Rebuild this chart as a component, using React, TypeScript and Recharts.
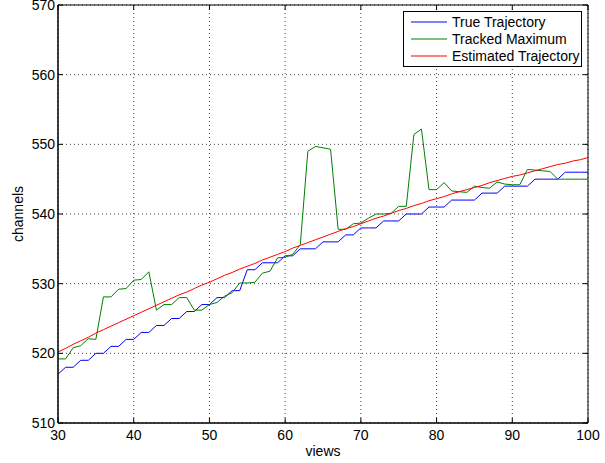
import {
  LineChart,
  Line,
  XAxis,
  YAxis,
  CartesianGrid,
  Legend,
  ReferenceArea,
  Label,
} from 'recharts';

// x values: views 30..100
const views = [
  30, 31, 32, 33, 34, 35, 36, 37, 38, 39,
  40, 41, 42, 43, 44, 45, 46, 47, 48, 49,
  50, 51, 52, 53, 54, 55, 56, 57, 58, 59,
  60, 61, 62, 63, 64, 65, 66, 67, 68, 69,
  70, 71, 72, 73, 74, 75, 76, 77, 78, 79,
  80, 81, 82, 83, 84, 85, 86, 87, 88, 89,
  90, 91, 92, 93, 94, 95, 96, 97, 98, 99,
  100,
];

const trueTrajectory = [
  517, 518, 518, 519, 519, 520, 520, 521, 521, 522,
  522, 523, 523, 524, 524, 525, 525, 526, 526, 527,
  527, 528, 528, 529, 529, 532, 532, 533, 533, 533,
  534, 534, 535, 535, 535, 536, 536, 536, 537, 537,
  538, 538, 538, 539, 539, 539, 540, 540, 540, 541,
  541, 541, 542, 542, 542, 542, 543, 543, 543, 544,
  544, 544, 544, 545, 545, 545, 545, 546, 546, 546,
  546,
];

const trackedMaximum = [
  519.2, 519.2, 520.8, 521.1, 522.1, 522.0, 528.1, 528.1, 529.2, 529.3,
  530.5, 530.6, 531.7, 526.2, 527.0, 527.0, 528.0, 528.0, 526.2, 526.2,
  527.0, 527.3, 528.2, 528.7, 530.1, 530.1, 530.2, 531.5, 531.8, 533.7,
  533.8, 534.2, 535.6, 549.0, 549.7, 549.5, 549.3, 537.8, 537.8, 538.6,
  538.7, 539.4, 540.0, 540.0, 540.1, 541.1, 541.1, 551.4, 552.2, 543.5,
  543.5, 544.5, 543.3, 543.2, 543.1, 544.0, 543.8, 543.7, 544.6, 544.3,
  544.2, 544.2, 546.4, 546.3, 546.2, 546.1, 545.0, 545.0, 545.0, 545.0,
  545.0,
];

const estimatedTrajectory = [
  520.2, 520.7, 521.3, 521.8, 522.3, 522.9, 523.4, 523.9, 524.4, 524.9,
  525.4, 525.9, 526.4, 526.9, 527.4, 527.9, 528.4, 528.8, 529.3, 529.8,
  530.2, 530.7, 531.2, 531.6, 532.1, 532.5, 532.9, 533.4, 533.8, 534.2,
  534.6, 535.1, 535.5, 535.9, 536.3, 536.7, 537.1, 537.5, 537.9, 538.2,
  538.6, 539.0, 539.4, 539.7, 540.1, 540.5, 540.8, 541.2, 541.5, 541.9,
  542.2, 542.5, 542.9, 543.2, 543.5, 543.8, 544.1, 544.5, 544.8, 545.1,
  545.4, 545.6, 545.9, 546.2, 546.5, 546.8, 547.1, 547.3, 547.6, 547.8,
  548.1,
];

const xTicks = [30, 40, 50, 60, 70, 80, 90, 100];
const yTicks = [510, 520, 530, 540, 550, 560, 570];

const seriesInfo = [
  { key: 'true', name: 'True Trajectory', color: '#0000ff' },
  { key: 'tracked', name: 'Tracked Maximum', color: '#008000' },
  { key: 'estimated', name: 'Estimated Trajectory', color: '#ff0000' },
];

const chartData = views.map((v, i) => ({
  views: v,
  true: trueTrajectory[i],
  tracked: trackedMaximum[i],
  estimated: estimatedTrajectory[i],
}));

const FONT = 'Liberation Sans, Arial, Helvetica, sans-serif';
const PLOT = { left: 58, top: 5, right: 588, bottom: 423 };

function XTick(props: any) {
  const { x, payload } = props;
  return (
    <g>
      <line x1={x} x2={x} y1={PLOT.bottom} y2={PLOT.bottom - 5} stroke="#000" />
      <line x1={x} x2={x} y1={PLOT.top} y2={PLOT.top + 5} stroke="#000" />
      <text
        x={x}
        y={PLOT.bottom + 16.5}
        textAnchor="middle"
        fontSize={14}
        fontFamily={FONT}
        fill="#000"
      >
        {payload.value}
      </text>
    </g>
  );
}

function YTick(props: any) {
  const { y, payload } = props;
  return (
    <g>
      <line x1={PLOT.left} x2={PLOT.left + 5} y1={y} y2={y} stroke="#000" />
      <line x1={PLOT.right} x2={PLOT.right - 5} y1={y} y2={y} stroke="#000" />
      <text
        x={PLOT.left - 3}
        y={y + 5}
        textAnchor="end"
        fontSize={14}
        fontFamily={FONT}
        fill="#000"
      >
        {payload.value}
      </text>
    </g>
  );
}

function LegendBox() {
  return (
    <svg width={179} height={56} style={{ display: 'block' }}>
      <rect x={0.5} y={0.5} width={178} height={55} fill="#fff" stroke="#000" />
      {seriesInfo.map((s, i) => (
        <g key={s.key}>
          <line
            x1={8}
            x2={44}
            y1={11 + i * 17}
            y2={11 + i * 17}
            stroke={s.color}
            strokeWidth={1.2}
          />
          <text
            x={49}
            y={16 + i * 17}
            fontSize={14}
            fontFamily={FONT}
            fill="#000"
          >
            {s.name}
          </text>
        </g>
      ))}
    </svg>
  );
}

function App() {
  return (
    <div style={{ position: 'absolute', left: 0, top: 0, background: '#fff' }}>
      <LineChart
        width={605}
        height={463}
        data={chartData}
        margin={{ top: PLOT.top, right: 605 - PLOT.right, left: 0, bottom: 0 }}
      >
        <CartesianGrid stroke="#444" strokeDasharray="1 3" />
        <XAxis
          dataKey="views"
          type="number"
          domain={[30, 100]}
          ticks={xTicks}
          height={463 - PLOT.bottom}
          stroke="#000"
          tickLine={false}
          tick={<XTick />}
          interval={0}
        >
          <Label
            content={(p: any) => (
              <text
                x={p.viewBox.x + p.viewBox.width / 2}
                y={456}
                textAnchor="middle"
                fontSize={14}
                fontFamily={FONT}
                fill="#000"
              >
                views
              </text>
            )}
          />
        </XAxis>
        <YAxis
          type="number"
          domain={[510, 570]}
          ticks={yTicks}
          width={PLOT.left}
          stroke="#000"
          tickLine={false}
          tick={<YTick />}
          interval={0}
        >
          <Label
            content={() => (
              <text
                x={23}
                y={(PLOT.top + PLOT.bottom) / 2}
                transform={`rotate(-90, 23, ${(PLOT.top + PLOT.bottom) / 2})`}
                textAnchor="middle"
                fontSize={14}
                fontFamily={FONT}
                fill="#000"
              >
                channels
              </text>
            )}
          />
        </YAxis>
        <ReferenceArea
          x1={30}
          x2={100}
          y1={510}
          y2={570}
          fill="none"
          stroke="#000"
          strokeWidth={1}
        />
        {seriesInfo.map((s) => (
          <Line
            key={s.key}
            type="linear"
            dataKey={s.key}
            name={s.name}
            stroke={s.color}
            strokeWidth={1}
            dot={false}
            isAnimationActive={false}
          />
        ))}
        <Legend
          layout="horizontal"
          verticalAlign="middle"
          align="center"
          wrapperStyle={{ top: 11, left: 403, width: 179, height: 56 }}
          content={() => <LegendBox />}
        />
      </LineChart>
    </div>
  );
}

export default App;
